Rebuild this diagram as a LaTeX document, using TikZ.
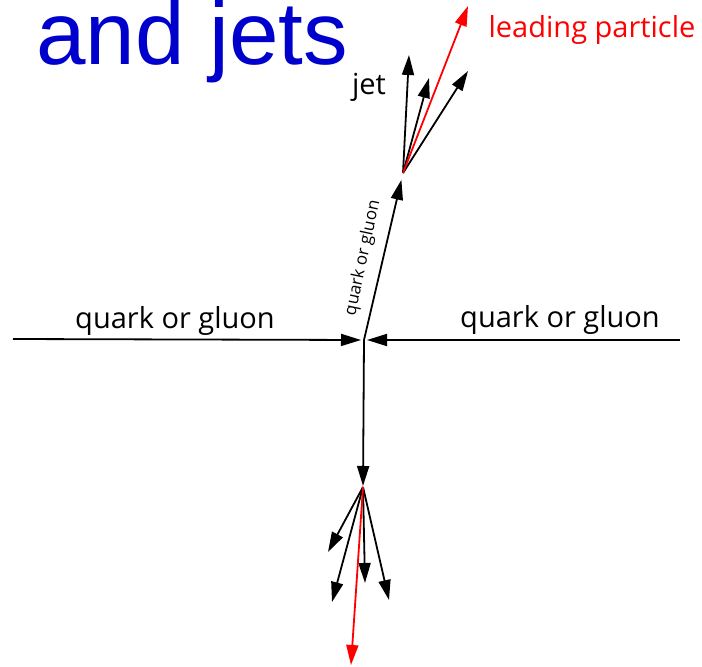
\documentclass[tikz,border=0pt]{standalone}
\usepackage{fontspec}
\setmainfont{Open Sans}
\newfontfamily\titlefont{Liberation Sans}
\usetikzlibrary{arrows.meta}
\tikzset{tipp/.tip={Triangle[length=20pt,width=12pt]}}
\begin{document}
\begin{tikzpicture}[x=1pt,y=-1pt,
  prt/.style={line width=1.8pt,-tipp},
  lead/.style={prt,red},
  lbl/.style={inner sep=0pt,font=\fontsize{29}{33}\selectfont}]
\useasboundingbox (0,0) rectangle (702,667);
\coordinate (C) at (364,340);
\coordinate (L) at (13,339);
\coordinate (R) at (680,340);
\coordinate (J1) at (403,173);
\coordinate (J2) at (363,487);
\coordinate (a1) at (409,55);
\coordinate (a2) at (429,78);
\coordinate (a3) at (468,71);
\coordinate (a4) at (468,6);
\coordinate (b1) at (328,552);
\coordinate (b2) at (332,602);
\coordinate (b3) at (365,583);
\coordinate (b4) at (389,600);
\coordinate (b5) at (351,665);
\node[anchor=base west,inner sep=0pt,text=blue!80!black,font=\titlefont\fontsize{89}{93}\selectfont] (title) at (36,64) {and jets};
\node[lbl,text=red] (lp) at (592,30) {leading particle};
\node[lbl] (jet) at (369,87) {jet};
\node[lbl,anchor=base] (ql) at (175,328) {quark or gluon};
\node[lbl,anchor=base] (qr) at (560,327) {quark or gluon};
\node[inner sep=0pt,rotate=78,font=\fontsize{17}{19}\selectfont] (qm) at (363,258) {quark or gluon};
\draw[prt,shorten >=3pt] (L) -- (C);
\draw[prt,shorten >=3pt] (R) -- (C);
\draw[prt,shorten >=7pt] (C) -- (J1);
\draw[prt,shorten >=1pt] (C) -- (J2);
\foreach \p in {a1,a2,a3} \draw[prt] (J1) -- (\p);
\draw[lead] (J1) -- (a4);
\foreach \p in {b1,b2,b3,b4} \draw[prt] (J2) -- (\p);
\draw[lead] (J2) -- (b5);
\end{tikzpicture}
\end{document}
